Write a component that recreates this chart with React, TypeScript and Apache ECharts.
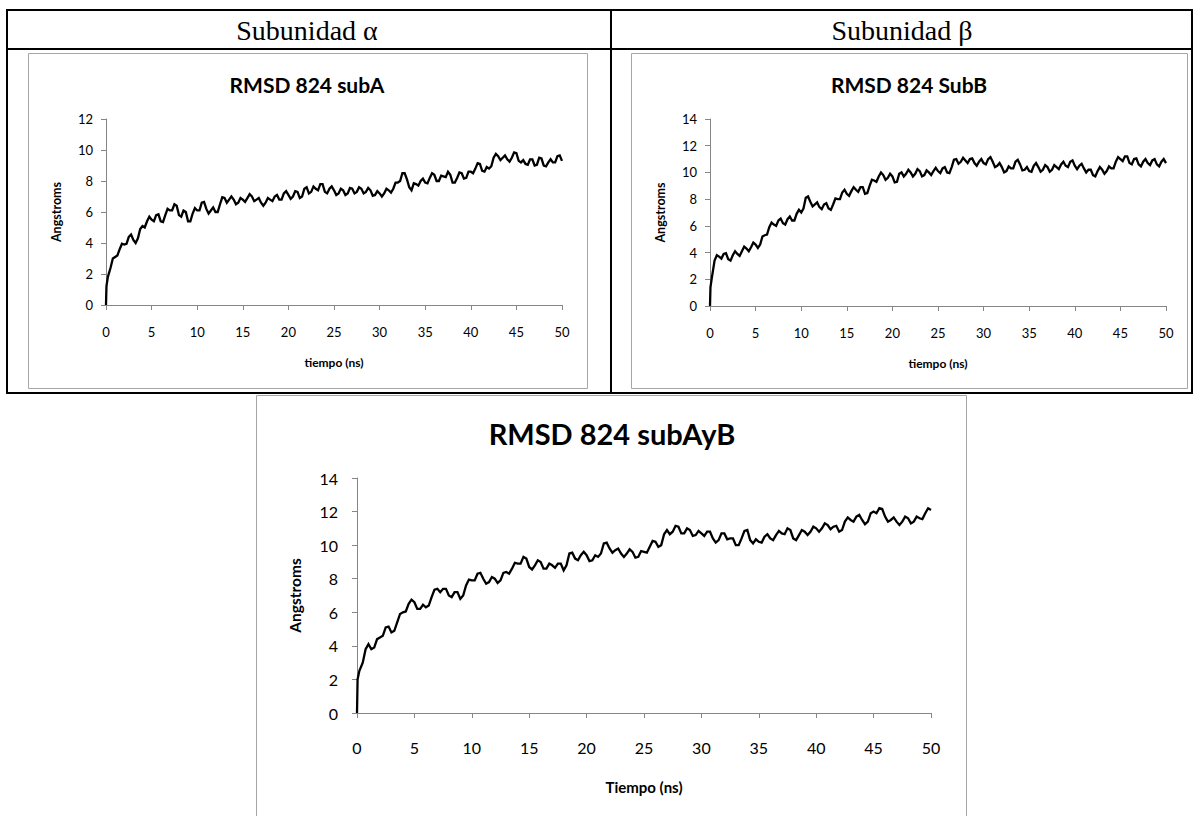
import React, { useEffect, useRef } from "react";
import * as echarts from "echarts";

// sample times (ns)
const TIME = [
  0, 0.05, 0.2,
  0.5, 1, 1.5, 2, 2.5, 3, 3.5, 4, 4.5, 5,
  5.5, 6, 6.5, 7, 7.5, 8, 8.5, 9, 9.5, 10,
  10.5, 11, 11.5, 12, 12.5, 13, 13.5, 14, 14.5, 15,
  15.5, 16, 16.5, 17, 17.5, 18, 18.5, 19, 19.5, 20,
  20.5, 21, 21.5, 22, 22.5, 23, 23.5, 24, 24.5, 25,
  25.5, 26, 26.5, 27, 27.5, 28, 28.5, 29, 29.5, 30,
  30.5, 31, 31.5, 32, 32.5, 33, 33.5, 34, 34.5, 35,
  35.5, 36, 36.5, 37, 37.5, 38, 38.5, 39, 39.5, 40,
  40.5, 41, 41.5, 42, 42.5, 43, 43.5, 44, 44.5, 45,
  45.5, 46, 46.5, 47, 47.5, 48, 48.5, 49, 49.5, 50,
];

// in-between sample times (ns)
const TIME_Q = [
  0.75, 1.25, 1.75, 2.25, 2.75, 3.25, 3.75, 4.25, 4.75,
  5.25, 5.75, 6.25, 6.75, 7.25, 7.75, 8.25, 8.75, 9.25, 9.75,
  10.25, 10.75, 11.25, 11.75, 12.25, 12.75, 13.25, 13.75, 14.25, 14.75,
  15.25, 15.75, 16.25, 16.75, 17.25, 17.75, 18.25, 18.75, 19.25, 19.75,
  20.25, 20.75, 21.25, 21.75, 22.25, 22.75, 23.25, 23.75, 24.25, 24.75,
  25.25, 25.75, 26.25, 26.75, 27.25, 27.75, 28.25, 28.75, 29.25, 29.75,
  30.25, 30.75, 31.25, 31.75, 32.25, 32.75, 33.25, 33.75, 34.25, 34.75,
  35.25, 35.75, 36.25, 36.75, 37.25, 37.75, 38.25, 38.75, 39.25, 39.75,
  40.25, 40.75, 41.25, 41.75, 42.25, 42.75, 43.25, 43.75, 44.25, 44.75,
  45.25, 45.75, 46.25, 46.75, 47.25, 47.75, 48.25, 48.75, 49.25, 49.75,
];

const SUB_A = [
  0, 1.2, 1.8,
  2.4, 3.1, 3.6, 3.9, 4.4, 4.2, 4.3, 5.1, 5.4, 5.5,
  5.8, 5.4, 5.8, 6.1, 6.5, 5.8, 6.1, 5.4, 5.9, 6.1,
  6.6, 6.2, 6.1, 6.0, 6.5, 6.9, 6.8, 6.8, 6.6, 6.8,
  6.9, 7.0, 6.8, 6.6, 6.6, 6.8, 7.0, 6.8, 7.2, 7.1,
  7.0, 7.3, 7.0, 7.6, 7.3, 7.5, 7.8, 7.3, 7.5, 7.4,
  7.2, 7.4, 7.2, 7.5, 7.3, 7.5, 7.3, 7.4, 7.1, 7.2,
  7.2, 7.4, 7.5, 7.9, 8.5, 8.1, 7.4, 7.8, 8.0, 7.9,
  8.2, 8.4, 8.0, 8.3, 8.6, 7.9, 8.2, 8.5, 8.2, 8.6,
  8.8, 9.1, 8.6, 8.8, 9.5, 9.6, 9.5, 9.4, 9.5, 9.8,
  9.2, 9.1, 9.4, 9.0, 9.5, 9.0, 9.2, 9.2, 9.6, 9.3,
];
const SUB_A_Q = [
  3.0, 3.2, 3.95, 3.95, 4.55, 4.0, 4.9, 5.0, 5.7,
  5.4, 5.85, 5.35, 6.2, 6.1, 6.4, 5.7, 6.0, 5.4, 6.25,
  6.1, 6.65, 5.9, 6.3, 6.0, 6.95, 6.6, 7.0, 6.5, 6.9,
  6.65, 7.15, 6.7, 6.9, 6.4, 6.9, 6.7, 7.1, 6.8, 7.35,
  6.85, 7.35, 6.9, 7.5, 7.2, 7.65, 7.4, 7.8, 7.2, 7.65,
  7.1, 7.5, 7.1, 7.55, 7.2, 7.6, 7.2, 7.55, 7.05, 7.35,
  7.0, 7.5, 7.25, 7.9, 8.0, 8.5, 7.6, 7.85, 7.7, 8.15,
  7.85, 8.5, 8.0, 8.35, 8.25, 8.4, 7.9, 8.55, 8.15, 8.6,
  8.5, 9.15, 8.65, 8.9, 8.95, 9.75, 9.35, 9.65, 9.25, 9.85,
  9.3, 9.35, 9.05, 9.4, 9.05, 9.45, 8.95, 9.4, 9.2, 9.65,
];

const SUB_B = [
  0, 1.4, 2.1,
  3.4, 3.7, 3.9, 3.5, 3.8, 3.9, 4.1, 4.3, 4.4, 4.6,
  4.6, 5.3, 5.9, 6.1, 6.4, 6.2, 6.5, 6.4, 6.9, 7.0,
  8.1, 7.8, 7.6, 7.4, 7.6, 7.3, 7.6, 8.0, 8.5, 8.4,
  8.6, 8.7, 8.9, 8.4, 9.0, 9.4, 9.7, 9.8, 9.6, 9.7,
  9.3, 10.0, 9.9, 10.0, 9.9, 10.1, 9.8, 10.0, 10.1, 10.1,
  10.3, 10.0, 10.4, 11.0, 10.8, 10.9, 11.0, 10.7, 10.8, 10.7,
  11.0, 10.8, 10.5, 10.4, 10.1, 10.3, 10.8, 10.6, 10.2, 10.1,
  10.5, 10.4, 10.2, 10.4, 10.2, 10.4, 10.6, 10.5, 10.8, 10.5,
  10.5, 10.3, 10.2, 9.8, 10.1, 10.2, 10.1, 10.3, 10.8, 11.0,
  11.2, 10.7, 11.0, 10.6, 10.8, 10.7, 10.9, 10.6, 10.8, 10.7,
];
const SUB_B_Q = [
  3.8, 3.55, 3.95, 3.4, 4.1, 3.75, 4.45, 4.1, 4.75,
  4.35, 5.2, 5.35, 6.25, 6.0, 6.55, 6.1, 6.7, 6.4, 7.2,
  7.3, 8.2, 7.45, 7.75, 7.25, 7.7, 7.2, 8.05, 8.0, 8.7,
  8.25, 8.9, 8.55, 8.9, 8.45, 9.45, 9.3, 10.0, 9.45, 9.9,
  9.25, 9.9, 9.7, 10.2, 9.7, 10.25, 9.7, 10.15, 9.8, 10.35,
  9.95, 10.4, 9.95, 10.95, 10.65, 11.1, 10.7, 11.05, 10.5, 11.0,
  10.6, 11.15, 10.4, 10.7, 10.0, 10.45, 10.3, 10.95, 10.15, 10.4,
  10.05, 10.7, 10.05, 10.55, 10.05, 10.55, 10.25, 10.8, 10.4, 10.9,
  10.25, 10.65, 10.0, 10.2, 9.7, 10.4, 9.9, 10.45, 10.3, 11.15,
  10.85, 11.2, 10.6, 11.05, 10.45, 11.0, 10.55, 11.0, 10.45, 11.0,
];

const SUB_AB = [
  0, 2.0, 2.5,
  3.0, 4.1, 3.9, 4.5, 5.1, 4.8, 5.4, 6.0, 6.5, 6.6,
  6.2, 6.3, 6.9, 7.4, 7.4, 7.0, 7.2, 6.8, 7.6, 7.9,
  8.3, 8.0, 7.8, 8.0, 7.9, 8.4, 8.6, 8.9, 9.3, 8.7,
  8.8, 9.0, 8.6, 8.8, 8.9, 8.5, 9.5, 9.2, 9.4, 9.4,
  9.1, 9.3, 10.1, 9.8, 9.7, 9.5, 9.5, 9.6, 9.3, 9.6,
  9.9, 10.2, 10.0, 10.9, 10.8, 11.1, 10.7, 10.9, 10.6, 10.7,
  10.8, 10.4, 10.3, 10.7, 10.4, 10.0, 10.4, 10.9, 10.1, 10.2,
  10.5, 10.4, 10.6, 10.7, 11.0, 10.4, 10.6, 10.8, 10.8, 11.0,
  11.0, 11.2, 11.1, 10.8, 11.4, 11.5, 11.7, 11.5, 11.4, 12.0,
  12.2, 11.7, 11.5, 11.4, 11.4, 11.6, 11.4, 11.6, 11.9, 12.1,
];
const SUB_AB_Q = [
  3.8, 3.8, 4.4, 4.6, 5.15, 4.9, 5.9, 6.05, 6.75,
  6.2, 6.45, 6.4, 7.35, 7.2, 7.4, 6.9, 7.2, 7.0, 7.95,
  7.9, 8.35, 7.7, 8.1, 7.75, 8.35, 8.3, 8.95, 8.9, 9.2,
  8.55, 9.1, 8.6, 8.9, 8.65, 8.9, 8.8, 9.55, 9.1, 9.6,
  9.05, 9.4, 9.5, 10.15, 9.55, 9.8, 9.3, 9.75, 9.25, 9.65,
  9.55, 10.25, 9.9, 10.65, 10.65, 11.15, 10.7, 11.0, 10.55, 10.85,
  10.55, 10.8, 10.15, 10.7, 10.35, 10.4, 10.0, 10.85, 10.3, 10.35,
  10.15, 10.65, 10.3, 10.85, 10.65, 10.9, 10.3, 10.9, 10.6, 11.1,
  10.8, 11.3, 10.95, 11.15, 10.9, 11.65, 11.4, 11.8, 11.25, 11.9,
  11.9, 12.15, 11.4, 11.65, 11.2, 11.7, 11.3, 11.7, 11.55, 12.2,
];

const HEADERS = ["Subunidad \u03b1", "Subunidad \u03b2"];
const TITLES = ["RMSD 824 subA", "RMSD 824 SubB", "RMSD 824 subAyB"];
const X_NAMES = ["tiempo (ns)", "tiempo (ns)", "Tiempo (ns)"];
const Y_NAME = "Angstroms";
const Y_MAX = [12, 14, 14];

const FONT = "Lato, 'Open Sans', sans-serif";
const AXIS_GRAY = "#868686";
const BOX_GRAY = "#a6a6a6";

export default function App() {
  const ref = useRef<HTMLDivElement>(null);

  useEffect(() => {
    if (!ref.current) return;
    const chart = echarts.init(ref.current, undefined, { renderer: "svg" });

    const pairs = (vals: number[], q: number[]) =>
      [
        ...TIME.map((t, i) => [t, vals[i]]),
        ...TIME_Q.map((t, i) => [t, q[i]]),
      ].sort((a, b) => a[0] - b[0]);

    const grids = [
      { left: 106, top: 119, width: 456, height: 186 },
      { left: 710, top: 119, width: 456, height: 187 },
      { left: 357, top: 478, width: 574, height: 235 },
    ];
    const small = [true, true, false];

    const xAxes = grids.map((_, i) => ({
      type: "value",
      gridIndex: i,
      min: 0,
      max: 50,
      interval: 5,
      name: X_NAMES[i],
      nameLocation: "middle",
      nameGap: small[i] ? 51 : 66,
      nameTextStyle: {
        fontFamily: FONT,
        fontWeight: "bold",
        fontSize: small[i] ? 12 : 15,
        color: "#000",
      },
      axisLine: { show: true, lineStyle: { color: AXIS_GRAY, width: 1 } },
      axisTick: { show: true, length: 5, lineStyle: { color: AXIS_GRAY } },
      splitLine: { show: false },
      axisLabel: {
        fontFamily: FONT,
        fontSize: small[i] ? 13 : 16,
        color: "#000",
        margin: small[i] ? 20 : 26,
      },
    }));

    const yAxes = grids.map((_, i) => ({
      type: "value",
      gridIndex: i,
      min: 0,
      max: Y_MAX[i],
      interval: 2,
      name: Y_NAME,
      nameLocation: "middle",
      nameGap: small[i] ? 43 : 54,
      nameTextStyle: {
        fontFamily: FONT,
        fontWeight: "bold",
        fontSize: small[i] ? 12.5 : 15.5,
        color: "#000",
      },
      axisLine: { show: true, lineStyle: { color: AXIS_GRAY, width: 1 } },
      axisTick: { show: true, length: 5, lineStyle: { color: AXIS_GRAY } },
      splitLine: { show: false },
      axisLabel: {
        fontFamily: FONT,
        fontSize: small[i] ? 13 : 16,
        color: "#000",
        margin: small[i] ? 13 : 19,
      },
    }));

    const series = [
      [SUB_A, SUB_A_Q],
      [SUB_B, SUB_B_Q],
      [SUB_AB, SUB_AB_Q],
    ].map(([vals, q], i) => ({
      type: "line",
      name: TITLES[i],
      xAxisIndex: i,
      yAxisIndex: i,
      data: pairs(vals, q),
      showSymbol: false,
      symbol: "none",
      lineStyle: { color: "#000", width: 2.3, join: "miter" },
      itemStyle: { color: "#000" },
    }));

    const blk = { stroke: "#000", lineWidth: 2 };
    const gry = { stroke: BOX_GRAY, lineWidth: 1, fill: "none" };

    const graphic = [
      // chart boxes
      { type: "rect", shape: { x: 28.5, y: 53.5, width: 559, height: 335 }, style: gry, z: 1 },
      { type: "rect", shape: { x: 631.5, y: 53.5, width: 556, height: 335 }, style: gry, z: 1 },
      { type: "rect", shape: { x: 256.5, y: 395.5, width: 710, height: 440 }, style: gry, z: 1 },
      // table lines
      { type: "line", shape: { x1: 6, y1: 10, x2: 1193, y2: 10 }, style: blk, z: 2 },
      { type: "line", shape: { x1: 6, y1: 49, x2: 1193, y2: 49 }, style: blk, z: 2 },
      { type: "line", shape: { x1: 6, y1: 393, x2: 1193, y2: 393 }, style: blk, z: 2 },
      { type: "line", shape: { x1: 7, y1: 10, x2: 7, y2: 393 }, style: blk, z: 2 },
      { type: "line", shape: { x1: 1192, y1: 10, x2: 1192, y2: 393 }, style: blk, z: 2 },
      { type: "line", shape: { x1: 611, y1: 10, x2: 611, y2: 393 }, style: blk, z: 2 },
      // header texts
      ...HEADERS.map((h, i) => ({
        type: "text",
        x: i === 0 ? 307 : 902,
        y: 30,
        style: {
          text: h,
          font: "28px 'Liberation Serif', 'Times New Roman', serif",
          fill: "#000",
          textAlign: "center",
          textVerticalAlign: "middle",
          align: "center",
          verticalAlign: "middle",
        },
        z: 3,
      })),
      // chart titles
      ...TITLES.map((t, i) => ({
        type: "text",
        x: [307, 909, 612][i],
        y: [84, 84, 433][i],
        style: {
          text: t,
          font: `bold ${small[i] ? 21 : 29}px ${FONT}`,
          fill: "#000",
          textAlign: "center",
          textVerticalAlign: "middle",
          align: "center",
          verticalAlign: "middle",
        },
        z: 3,
      })),
    ];

    chart.setOption({
      animation: false,
      backgroundColor: "#fff",
      grid: grids.map((g) => ({ ...g, containLabel: false })),
      xAxis: xAxes,
      yAxis: yAxes,
      series,
      graphic,
    });

    return () => chart.dispose();
  }, []);

  return (
    <div
      ref={ref}
      style={{ position: "fixed", left: 0, top: 0, width: 1195, height: 816, background: "#fff" }}
    />
  );
}
